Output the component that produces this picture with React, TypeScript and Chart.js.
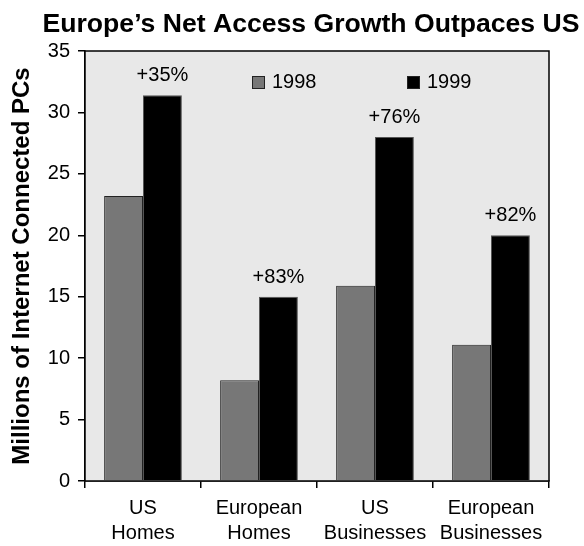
import React, { useEffect, useRef } from "react";
import { Chart, registerables } from "chart.js";

Chart.register(...registerables);

const categories: string[][] = [
  ["US", "Homes"],
  ["European", "Homes"],
  ["US", "Businesses"],
  ["European", "Businesses"],
];
const values1998: number[] = [23.2, 8.2, 15.9, 11.1];
const values1999: number[] = [31.4, 15.0, 28.0, 20.0];
const growthLabels: string[] = ["+35%", "+83%", "+76%", "+82%"];
const yTicks: number[] = [0, 5, 10, 15, 20, 25, 30, 35];

const FONT = '"Liberation Sans", Arial, Helvetica, sans-serif';
const COLOR_1998 = "#777777";
const COLOR_1999 = "#000000";
const PLOT_BG = "#e8e8e8";

const decorPlugin = {
  id: "decor",
  beforeDatasetsDraw(chart: any) {
    const { ctx, chartArea } = chart;
    const { left, top, right, bottom } = chartArea;
    ctx.save();
    ctx.fillStyle = PLOT_BG;
    ctx.fillRect(left, top, right - left, bottom - top);
    ctx.restore();
  },
  afterDraw(chart: any) {
    const { ctx, chartArea } = chart;
    const { left, top, right, bottom } = chartArea;
    ctx.save();
    // plot frame
    ctx.strokeStyle = "#000";
    ctx.lineWidth = 1.5;
    ctx.strokeRect(left, top, right - left, bottom - top);

    // title
    ctx.fillStyle = "#000";
    ctx.font = `bold 26.6px ${FONT}`;
    ctx.textAlign = "center";
    ctx.textBaseline = "alphabetic";
    ctx.fillText(
      "Europe\u2019s Net Access Growth Outpaces US",
      (left + right) / 2 - 6,
      24
    );

    // growth labels above the 1999 bars
    const meta = chart.getDatasetMeta(1);
    ctx.font = `20px ${FONT}`;
    meta.data.forEach((bar: any, i: number) => {
      ctx.fillText(growthLabels[i], bar.x, bar.y - 14);
    });

    // legend inside the plot
    const items = [
      { label: "1998", color: COLOR_1998, dx: 167 },
      { label: "1999", color: COLOR_1999, dx: 322 },
    ];
    ctx.textAlign = "left";
    ctx.textBaseline = "middle";
    items.forEach((it) => {
      const x = left + it.dx;
      const y = top + 25;
      ctx.fillStyle = it.color;
      ctx.fillRect(x, y, 13, 13);
      ctx.strokeStyle = "#222";
      ctx.lineWidth = 1;
      ctx.strokeRect(x + 0.5, y + 0.5, 12, 12);
      ctx.fillStyle = "#000";
      ctx.fillText(it.label, x + 20, y + 6.5);
    });
    ctx.restore();
  },
};

export default function App() {
  const canvasRef = useRef<HTMLCanvasElement | null>(null);

  useEffect(() => {
    if (!canvasRef.current) return;
    const chart = new Chart(canvasRef.current, {
      type: "bar",
      data: {
        labels: categories,
        datasets: [
          {
            label: "1998",
            data: values1998,
            backgroundColor: COLOR_1998,
            borderColor: "#222",
            borderWidth: 1,
          },
          {
            label: "1999",
            data: values1999,
            backgroundColor: COLOR_1999,
            borderColor: "#555",
            borderWidth: 1,
          },
        ],
      },
      options: {
        responsive: false,
        animation: false,
        layout: { padding: { top: 43, right: 35, left: 0, bottom: 0 } },
        plugins: {
          legend: { display: false },
          title: { display: false },
          tooltip: { enabled: false },
        },
        datasets: {
          bar: { categoryPercentage: 0.67, barPercentage: 1 },
        },
        scales: {
          x: {
            grid: {
              offset: true,
              drawOnChartArea: false,
              tickLength: 7,
              color: "#000",
              lineWidth: 1.5,
            },
            border: { color: "#000", width: 1.5 },
            ticks: {
              color: "#000",
              font: { family: FONT, size: 20, lineHeight: "25px" },
              padding: 8,
              maxRotation: 0,
              autoSkip: false,
            },
            afterFit: (s: any) => {
              s.height = 65;
            },
          },
          y: {
            min: 0,
            max: 35,
            afterBuildTicks: (s: any) => {
              s.ticks = yTicks.map((v) => ({ value: v }));
            },
            grid: {
              drawOnChartArea: false,
              tickLength: 7,
              color: "#000",
              lineWidth: 1.5,
            },
            border: { color: "#000", width: 1.5 },
            ticks: {
              color: "#000",
              font: { family: FONT, size: 20 },
              padding: 8,
            },
            title: {
              display: true,
              text: "Millions of Internet Connected PCs",
              color: "#000",
              font: { family: FONT, size: 24, weight: "bold" },
              padding: 0,
            },
            afterFit: (s: any) => {
              s.width = 77;
            },
          },
        },
      },
      plugins: [decorPlugin],
    });
    return () => chart.destroy();
  }, []);

  return (
    <canvas
      ref={canvasRef}
      width={576}
      height={538}
      style={{ display: "block", position: "fixed", left: 8, top: 8 }}
    />
  );
}
